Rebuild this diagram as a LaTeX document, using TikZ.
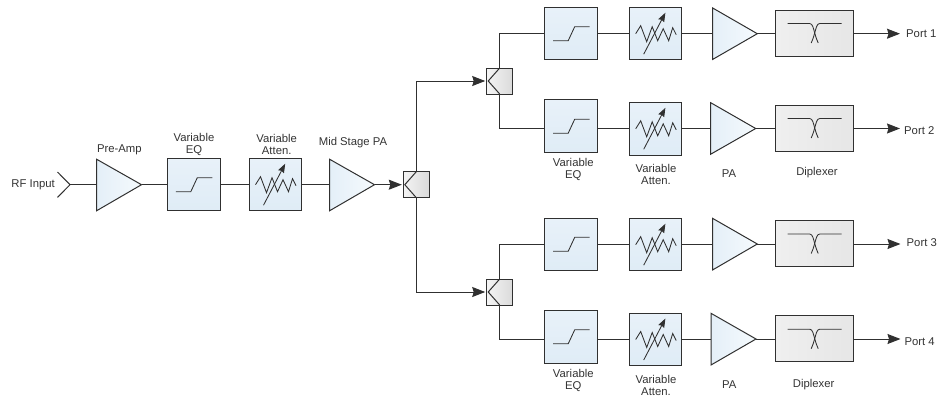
\documentclass[tikz,border=0pt]{standalone}
\usepackage{fontspec}
\setmainfont{Liberation Sans}
\usetikzlibrary{arrows.meta}
\definecolor{ink}{HTML}{303030}
\definecolor{labink}{HTML}{333333}
\definecolor{E8F1F9}{HTML}{E8F1F9}
\definecolor{DFECF6}{HTML}{DFECF6}
\definecolor{EFEFEF}{HTML}{EFEFEF}
\definecolor{E6E6E6}{HTML}{E6E6E6}
\definecolor{F4F4F4}{HTML}{F4F4F4}
\definecolor{DADADA}{HTML}{DADADA}
\definecolor{E4EFF8}{HTML}{E4EFF8}
\definecolor{F5FAFD}{HTML}{F5FAFD}
\tikzset{
  x=1pt,y=-1pt,
  wire/.style={draw=ink,line width=1pt},
  arrowwire/.style={wire,-{Stealth[length=13pt,width=10pt,inset=1.5pt]}},
  bluebox/.style={draw=ink,line width=1pt,top color=E8F1F9,bottom color=DFECF6,minimum width=52.5pt,minimum height=52.5pt,inner sep=0pt,outer sep=0pt},
  dipbox/.style={draw=ink,line width=1pt,left color=EFEFEF,right color=E6E6E6,minimum width=77.5pt,minimum height=46pt,inner sep=0pt,outer sep=0pt},
  splitbox/.style={draw=ink,line width=1pt,left color=F4F4F4,right color=DADADA,minimum width=26pt,minimum height=26pt,inner sep=0pt,outer sep=0pt},
  tri/.style={draw=ink,line width=1pt,left color=E4EFF8,right color=F5FAFD,line join=miter},
  sym/.style={draw=ink,line width=0.85pt},
  lab/.style={font=\fontsize{11.3}{12}\selectfont,text=labink,inner sep=0pt,align=center},
}
\newcommand{\eqsym}[1]{\begin{scope}[shift={(#1.center)}]\draw[sym] (-18,7) -- (-3,7) -- (3.5,-7) -- (18.5,-7);\end{scope}}
\newcommand{\attsym}[1]{\begin{scope}[shift={(#1.center)}]
  \draw[sym] (-20,0) -- (-15,-8) -- (-9,8) -- (-3.5,-7) -- (2,7) -- (7.5,-5) -- (13,7) -- (17,-6) -- (20.5,1);
  \draw[sym,-{Stealth[length=9pt,width=6.5pt,inset=1pt]}] (-12,20.5) -- (9.7,-21);\end{scope}}
\newcommand{\dipsym}[1]{\begin{scope}[shift={(#1.center)}]
  \draw[sym] (-27,-9.5) -- (-5,-9.5) .. controls (-2,-9.5) and (-1.2,-4) .. (0,0) .. controls (1,3.5) and (2,7) .. (3.5,10);
  \draw[sym] (27,-9.5) -- (5,-9.5) .. controls (2,-9.5) and (1.2,-4) .. (0,0) .. controls (-1,3.5) and (-2,7) .. (-3.5,10);\end{scope}}
\begin{document}
\begin{tikzpicture}
\useasboundingbox (0,0) rectangle (937,399);
% input
\coordinate (inp) at (70,184.7);
\draw[wire] (57.5,172) -- (inp) -- (57.5,197.4);
\node[lab,anchor=east] (rf) at (55,185) {RF Input};
% preamp
\coordinate (preL) at (96.7,184.7);
\coordinate (preR) at (141.5,184.7);
\draw[tri] (96.7,159.3) -- (preR) -- (96.7,210.7) -- cycle;
\node[lab] (prelab) at (119.3,150) {Pre-Amp};
\draw[wire] (inp) -- (preL);
\node[bluebox] (eq0) at (193.8,184.7) {};
\eqsym{eq0}
\node[bluebox] (at0) at (275.5,184.7) {};
\attsym{at0}
\node[lab] (eq0lab) at (194,144) {Variable\\EQ};
\node[lab] (at0lab) at (276.7,144) {Variable\\Atten.};
\coordinate (midL) at (329.7,184.7);
\coordinate (midR) at (374.5,184.7);
\draw[tri] (329.7,159.3) -- (midR) -- (329.7,210.7) -- cycle;
\node[lab] (midlab) at (353,142.7) {Mid Stage PA};
\draw[wire] (preR) -- (eq0);
\draw[wire] (eq0) -- (at0);
\draw[wire] (at0) -- (midL);
% splitters
\node[splitbox] (s1) at (416.3,184.7) {};
\draw[wire] (s1.north) -- ([xshift=1.5pt]s1.west) -- (s1.south);
\draw[arrowwire,shorten >=1.5pt] (midR) -- (s1.west);
\node[splitbox] (s2) at (499.7,81) {};
\draw[wire] (s2.north) -- ([xshift=1.5pt]s2.west) -- (s2.south);
\node[splitbox] (s3) at (499.7,292) {};
\draw[wire] (s3.north) -- ([xshift=1.5pt]s3.west) -- (s3.south);
\draw[arrowwire,shorten >=1.5pt] (s1.north) |- (s2.west);
\draw[arrowwire,shorten >=1.5pt] (s1.south) |- (s3.west);
% rows
\coordinate (r1) at (0,33.7);
\coordinate (r2) at (0,128.5);
\coordinate (r3) at (0,244);
\coordinate (r4) at (0,339);
% row 1
\node[bluebox] (eq1) at (571.2,33.7) {};\eqsym{eq1}
\node[bluebox] (at1) at (655.7,33.7) {};\attsym{at1}
\coordinate (pa1L) at (712.7,33.7);\coordinate (pa1R) at (757.3,33.7);
\draw[tri] (712.7,8) -- (pa1R) -- (712.7,59.4) -- cycle;
\node[dipbox] (d1) at (814.7,33) {};\dipsym{d1}
\coordinate (p1e) at (900,33.7);
\node[lab,anchor=west] (p1) at (906,33.3) {Port 1};
% row 2
\node[bluebox] (eq2) at (571.2,126.2) {};\eqsym{eq2}
\node[bluebox] (at2) at (655.7,128.8) {};\attsym{at2}
\coordinate (pa2L) at (710.7,128.5);\coordinate (pa2R) at (755.7,128.5);
\draw[tri] (710.7,102.7) -- (pa2R) -- (710.7,154.2) -- cycle;
\node[dipbox] (d2) at (814.7,128) {};\dipsym{d2}
\coordinate (p2e) at (900,128.5);
\node[lab,anchor=west] (p2) at (904,131) {Port 2};
% row 3
\node[bluebox] (eq3) at (571.2,244.3) {};\eqsym{eq3}
\node[bluebox] (at3) at (655.7,244.7) {};\attsym{at3}
\coordinate (pa3L) at (712.5,244);\coordinate (pa3R) at (757.3,244);
\draw[tri] (712.5,218.3) -- (pa3R) -- (712.5,270) -- cycle;
\node[dipbox] (d3) at (814.7,243.5) {};\dipsym{d3}
\coordinate (p3e) at (900.5,244);
\node[lab,anchor=west] (p3) at (906.5,242.7) {Port 3};
% row 4
\node[bluebox] (eq4) at (571.2,336.8) {};\eqsym{eq4}
\node[bluebox] (at4) at (655.7,339.5) {};\attsym{at4}
\coordinate (pa4L) at (711,339);\coordinate (pa4R) at (756,339);
\draw[tri] (711,313.3) -- (pa4R) -- (711,365) -- cycle;
\node[dipbox] (d4) at (814.7,338.7) {};\dipsym{d4}
\coordinate (p4e) at (900.5,339);
\node[lab,anchor=west] (p4) at (904.3,341.7) {Port 4};
% branch wires
\draw[wire] (s2.north) |- (eq1.west |- r1);
\draw[wire] (s2.south) |- (eq2.west |- r2);
\draw[wire] (s3.north) |- (eq3.west |- r3);
\draw[wire] (s3.south) |- (eq4.west |- r4);
\foreach \r in {1,2,3,4}{
  \draw[wire] (eq\r.east |- r\r) -- (at\r.west |- r\r);
  \draw[wire] (at\r.east |- r\r) -- (pa\r L);
  \draw[wire] (pa\r R) -- (d\r.west |- r\r);
  \draw[arrowwire] (d\r.east |- r\r) -- (p\r e);
}
% labels
\node[lab] (eq2lab) at (573.3,169.5) {Variable\\EQ};
\node[lab] (at2lab) at (656,174.5) {Variable\\Atten.};
\node[lab] (pa2lab) at (729,173.7) {PA};
\node[lab] (d2lab) at (817,173) {Diplexer};
\node[lab] (eq4lab) at (573.3,380) {Variable\\EQ};
\node[lab] (at4lab) at (656,385) {Variable\\Atten.};
\node[lab] (pa4lab) at (729.3,384.7) {PA};
\node[lab] (d4lab) at (813.7,384.7) {Diplexer};
\end{tikzpicture}
\end{document}
